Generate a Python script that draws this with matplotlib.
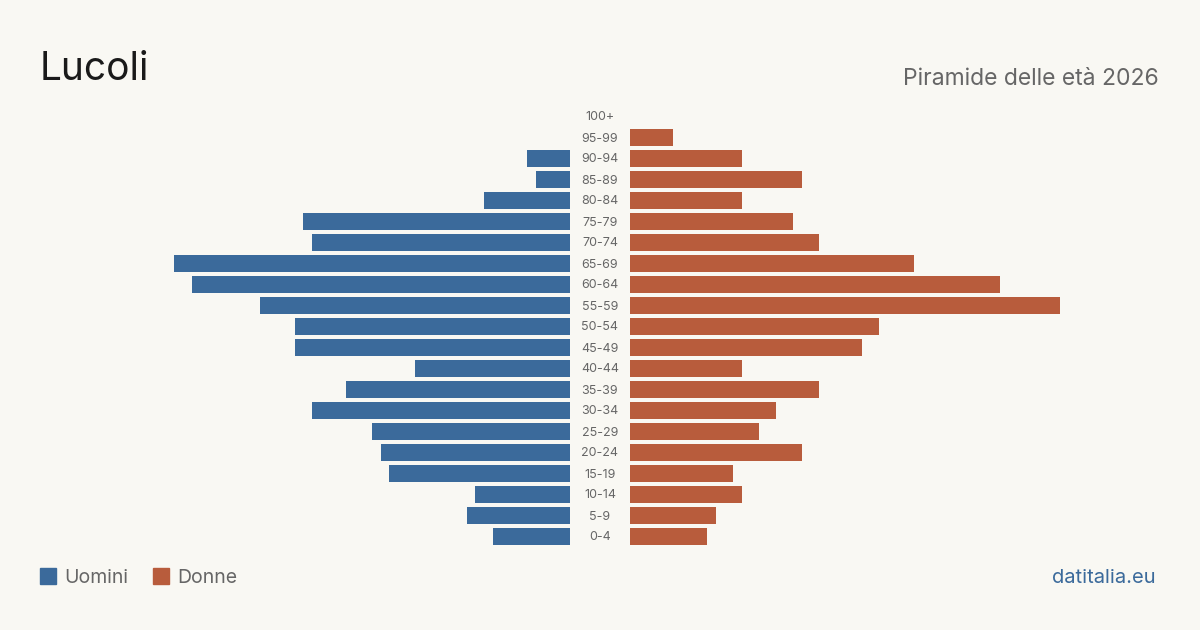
import matplotlib.pyplot as plt
from matplotlib.patches import Rectangle

plt.rcParams['font.family'] = ['Inter', 'DejaVu Sans']

classi = ['100+', '95-99', '90-94', '85-89', '80-84', '75-79', '70-74', '65-69',
          '60-64', '55-59', '50-54', '45-49', '40-44', '35-39', '30-34', '25-29',
          '20-24', '15-19', '10-14', '5-9', '0-4']
uomini = [0, 0, 5, 4, 10, 31, 30, 46, 44, 36, 32, 32, 18, 26, 30, 23, 22, 21, 11, 12, 9]
donne = [0, 5, 13, 20, 13, 19, 22, 33, 43, 50, 29, 27, 13, 22, 17, 15, 20, 12, 13, 10, 9]

sfondo = '#f9f8f3'
blu = '#3b6a9b'
rosso = '#b85c3c'

fig = plt.figure(figsize=(12, 6.3), dpi=100, facecolor=sfondo)

W, H = 1200, 630
bottom = (H - 547) / H
height = 441 / H
axl = fig.add_axes([140 / W, bottom, 430 / W, height])
axr = fig.add_axes([630 / W, bottom, 430 / W, height])

y = list(range(len(classi)))
axl.barh(y, uomini, height=0.8, color=blu)
axr.barh(y, donne, height=0.8, color=rosso)
axl.set_xlim(50, 0)
axr.set_xlim(0, 50)
for ax in (axl, axr):
    ax.set_ylim(len(classi) - 0.5, -0.5)
    ax.axis('off')

for i, c in enumerate(classi):
    fig.text(600 / W, 1 - (117.5 + 21 * i) / H, c, ha='center', va='center',
             fontsize=9, color='#666666')

fig.text(40 / W, 1 - 79.5 / H, 'Lucoli', fontsize=28, color='#1a1a1a', va='baseline')
fig.text(1159 / W, 1 - 85 / H, 'Piramide delle età 2026', fontsize=16.5,
         color='#666666', ha='right', va='baseline')

# legenda
fig.patches.append(Rectangle((40 / W, 1 - 584 / H), 16 / W, 16 / H,
                             transform=fig.transFigure, color=blu))
fig.text(64 / W, 1 - 583 / H, 'Uomini', fontsize=14, color='#666666', va='baseline')
fig.patches.append(Rectangle((153 / W, 1 - 584 / H), 16 / W, 16 / H,
                             transform=fig.transFigure, color=rosso))
fig.text(177 / W, 1 - 583 / H, 'Donne', fontsize=14, color='#666666', va='baseline')

fig.text(1156 / W, 1 - 583 / H, 'datitalia.eu', fontsize=14.5, color=blu,
         ha='right', va='baseline')

fig.savefig('out.png', facecolor=sfondo)
